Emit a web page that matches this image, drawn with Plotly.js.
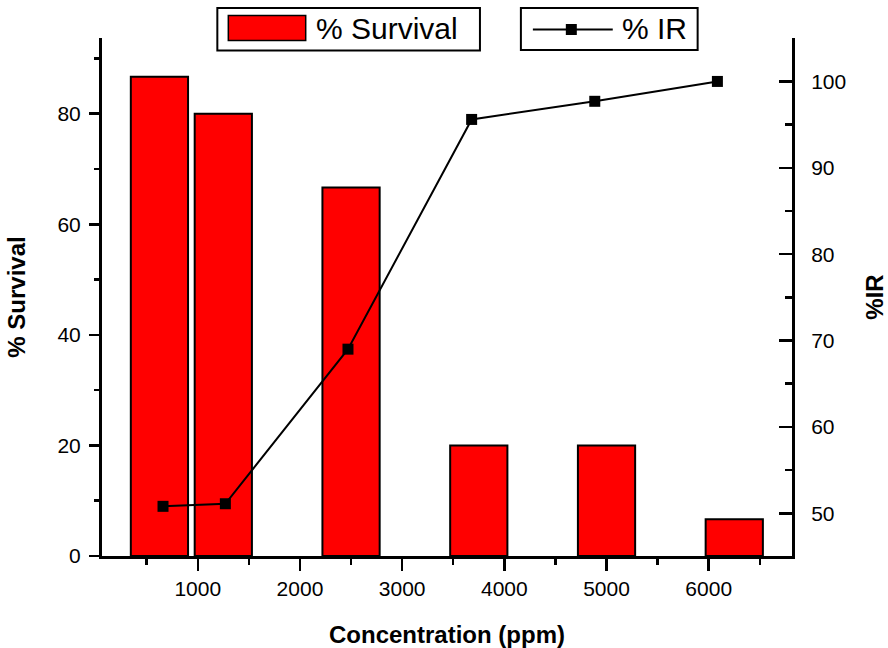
<!DOCTYPE html>
<html>
<head>
<meta charset="utf-8">
<script src="https://cdn.plot.ly/plotly-3.0.1.min.js"></script>
<style>
  html, body { margin: 0; padding: 0; background: #fff; }
  #chart { width: 888px; height: 648px; }
</style>
</head>
<body>
<div id="chart"></div>
<script>
// ---- data ----
const barConcentration = [625, 1250, 2500, 3750, 5000, 6250];
const survival = [86.67, 80, 66.67, 20, 20, 6.67];
const irConcentration = [660, 1270, 2470, 3680, 4885, 6085];
const ir = [50.8, 51.1, 69.0, 95.6, 97.7, 100];
const survivalName = '% Survival';
const irName = '% IR';
const xTitle = 'Concentration (ppm)';
const yTitle = '% Survival';
const y2Title = '%IR';

// ---- layout geometry ----
const L = 101.5, T = 37.5, W = 691, H = 518.5;
const FONT = 'Liberation Sans, Arial, Helvetica, sans-serif';
const px = v => (v - L) / W;          // pixel x -> paper x
const py = v => (T + H - v) / H;      // pixel y -> paper y

const traces = [
  {
    type: 'bar',
    name: survivalName,
    x: barConcentration,
    y: survival,
    width: 560,
    marker: { color: '#ff0000', line: { color: '#000000', width: 2 } },
    yaxis: 'y',
    showlegend: false
  },
  {
    type: 'scatter',
    mode: 'lines+markers',
    name: irName,
    x: irConcentration,
    y: ir,
    line: { color: '#000000', width: 2 },
    marker: { symbol: 'square', size: 11, color: '#000000' },
    yaxis: 'y2',
    showlegend: false
  }
];

const axisCommon = {
  showline: true, linecolor: '#000', linewidth: 3,
  showgrid: false, zeroline: false,
  tickcolor: '#000', tickwidth: 2.5,
  tickfont: { family: FONT, size: 21, color: '#000' }
};

const layout = {
  width: 888, height: 648,
  margin: { l: L, r: 888 - L - W, t: T, b: 648 - T - H, pad: 0 },
  paper_bgcolor: '#fff', plot_bgcolor: '#fff',
  showlegend: false,
  bargap: 0,
  xaxis: Object.assign({}, axisCommon, {
    range: [63, 6815],
    tick0: 0, dtick: 1000,
    ticks: 'outside', ticklen: 12,
    minor: { dtick: 500, ticks: 'outside', ticklen: 6, tickwidth: 2.5, tickcolor: '#000' },
    title: { text: xTitle, standoff: 28, font: { family: FONT, size: 24, weight: 'bold', color: '#000' } },
    automargin: false
  }),
  yaxis: Object.assign({}, axisCommon, {
    range: [0, 93.7],
    tick0: 0, dtick: 20,
    ticks: 'outside', ticklen: 10,
    ticklabelstandoff: 4,
    minor: { dtick: 10, ticks: 'outside', ticklen: 5, tickwidth: 2.5, tickcolor: '#000' },
    title: { text: yTitle, standoff: 26, font: { family: FONT, size: 24, weight: 'bold', color: '#000' } },
    automargin: false
  }),
  yaxis2: Object.assign({}, axisCommon, {
    overlaying: 'y', side: 'right', anchor: 'x',
    range: [45.05, 105.03],
    tick0: 0, dtick: 10,
    ticks: 'inside', ticklen: 13,
    ticklabelstandoff: 12,
    minor: { dtick: 5, ticks: 'inside', ticklen: 7, tickwidth: 2.5, tickcolor: '#000' },
    title: { text: y2Title, standoff: 22, font: { family: FONT, size: 24, weight: 'bold', color: '#000' } },
    automargin: false
  }),
  shapes: [
    // legend box 1
    { type: 'rect', xref: 'paper', yref: 'paper', x0: px(217), x1: px(480), y0: py(50), y1: py(7.5),
      line: { color: '#000', width: 2 }, fillcolor: 'rgba(0,0,0,0)' },
    { type: 'rect', xref: 'paper', yref: 'paper', x0: px(228), x1: px(305.5), y0: py(40), y1: py(15),
      line: { color: '#000', width: 1.5 }, fillcolor: '#ff0000' },
    // legend box 2
    { type: 'rect', xref: 'paper', yref: 'paper', x0: px(521), x1: px(698), y0: py(49.5), y1: py(7.5),
      line: { color: '#000', width: 2 }, fillcolor: 'rgba(0,0,0,0)' },
    { type: 'line', xref: 'paper', yref: 'paper', x0: px(533), x1: px(613), y0: py(29), y1: py(29),
      line: { color: '#000', width: 2 } },
    { type: 'rect', xref: 'paper', yref: 'paper', x0: px(566), x1: px(577), y0: py(34.5), y1: py(23.5),
      line: { color: '#000', width: 0 }, fillcolor: '#000' }
  ],
  annotations: [
    { xref: 'paper', yref: 'paper', x: px(314), y: py(28), xanchor: 'left', yanchor: 'middle',
      text: survivalName, showarrow: false, font: { family: FONT, size: 30, color: '#000' } },
    { xref: 'paper', yref: 'paper', x: px(620), y: py(28), xanchor: 'left', yanchor: 'middle',
      text: irName, showarrow: false, font: { family: FONT, size: 30, color: '#000' } }
  ]
};

Plotly.newPlot('chart', traces, layout, { displayModeBar: false, staticPlot: true });
</script>
</body>
</html>
